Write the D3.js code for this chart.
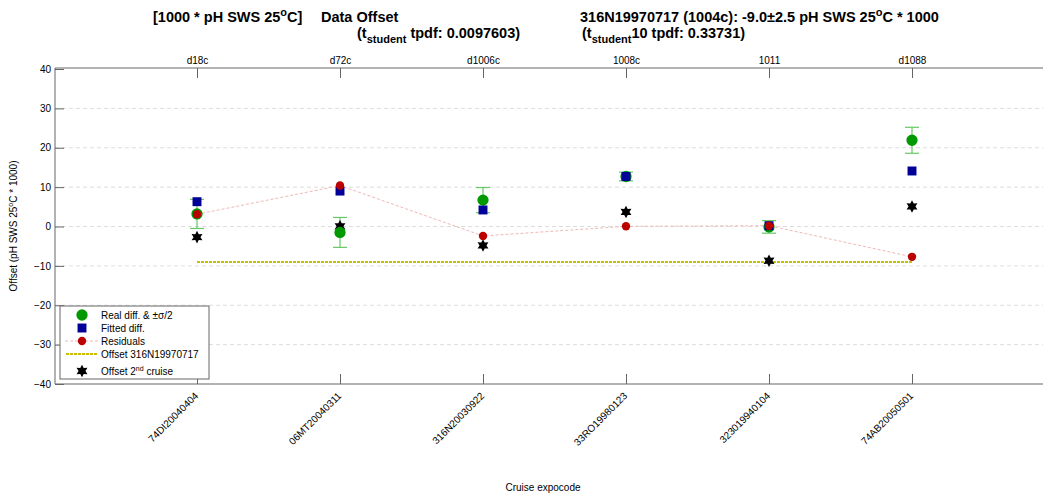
<!DOCTYPE html>
<meta charset="utf-8">
<style>
    body { margin: 0; background: #fff; }
    text { font-family: "Liberation Sans", Arial, sans-serif; fill: #000; }
    .grid line { stroke: #ddd; stroke-dasharray: 4 3; }
    .title { font-size: 14.5px; font-weight: bold; }
    .tick text { font-size: 10px; }
</style>
<body>
<svg width="1043" height="496"></svg>
</body>
<script src="https://d3js.org/d3.v7.min.js"></script>
<script>
    const cruises = ["74DI20040404", "06MT20040311", "316N20030922", "33RO19980123", "323019940104", "74AB20050501"];
    const topLabels = ["d18c", "d72c", "d1006c", "1008c", "1011", "d1088"];
    const realDiff = [3.2, -1.5, 6.7, 12.7, -0.1, 21.9];
    const realErr = [3.7, 3.8, 3.2, 1.1, 1.6, 3.3];
    const fitted = [6.3, 9.0, 4.2, 12.7, 0.2, 14.1];
    const residuals = [3.1, 10.4, -2.4, 0.05, 0.2, -7.7];
    const secondOffset = [-2.7, 0.05, -4.8, 3.7, -8.7, 5.1];
    const offsetValue = -9.0;
    const yTicks = [-40, -30, -20, -10, 0, 10, 20, 30, 40];

    const svg = d3.select("svg");
    const mLeft = 55, mTop = 68, mBottom = 384;

    const x = d3.scaleLinear().domain([0, 7]).range([54, 1055]);
    const y = d3.scaleLinear().domain([-40, 40]).range([mBottom, mTop + 1]);
    const idx = d3.range(cruises.length).map(i => i + 1);

    // grid
    svg.append("g").attr("class", "grid")
        .selectAll("line").data(yTicks.filter(d => d > -40 && d < 40)).enter().append("line")
        .attr("x1", mLeft).attr("x2", 1043)
        .attr("y1", d => y(d)).attr("y2", d => y(d));

    // frame
    svg.append("g").attr("stroke", "#666").attr("fill", "none").selectAll("line")
        .data([[mLeft, mTop, 1043, mTop], [mLeft, mBottom, 1043, mBottom], [mLeft, mTop, mLeft, mBottom]])
        .enter().append("line")
        .attr("x1", d => d[0]).attr("y1", d => d[1]).attr("x2", d => d[2]).attr("y2", d => d[3]);

    // y axis
    const yAxis = svg.append("g").attr("transform", `translate(${mLeft},0)`)
        .call(d3.axisLeft(y).tickValues(yTicks).tickSizeInner(-9).tickSizeOuter(0).tickPadding(4));
    yAxis.select(".domain").remove();
    yAxis.selectAll(".tick line").attr("stroke", "#666");

    // top axis
    const xTop = svg.append("g").attr("transform", `translate(0,${mTop})`)
        .call(d3.axisTop(x).tickValues(idx).tickFormat(d => topLabels[d - 1]).tickSizeInner(-10).tickSizeOuter(0).tickPadding(4));
    xTop.select(".domain").remove();
    xTop.selectAll(".tick line").attr("stroke", "#666");

    // bottom axis
    const xBot = svg.append("g").attr("transform", `translate(0,${mBottom})`)
        .call(d3.axisBottom(x).tickValues(idx).tickFormat(d => cruises[d - 1]).tickSizeInner(-10).tickSizeOuter(0));
    xBot.select(".domain").remove();
    xBot.selectAll(".tick line").attr("stroke", "#666");
    xBot.selectAll(".tick text")
        .attr("text-anchor", "end")
        .attr("transform", "translate(-1,10) rotate(-45)")
        .attr("dy", "0.35em").attr("y", 0);

    // axis titles
    svg.append("text").attr("transform", `translate(17,${(mTop + mBottom) / 2}) rotate(-90)`)
        .attr("text-anchor", "middle").style("font-size", "10px")
        .html('Offset (pH SWS 25<tspan dy="-4" font-size="7px">o</tspan><tspan dy="4">C * 1000)</tspan>');
    svg.append("text").attr("x", 543).attr("y", 491).attr("text-anchor", "middle")
        .style("font-size", "10px").text("Cruise expocode");

    // offset line
    svg.append("line")
        .attr("x1", x(1)).attr("x2", x(6)).attr("y1", y(offsetValue)).attr("y2", y(offsetValue))
        .attr("stroke", "#c8c000").attr("stroke-width", 2).attr("stroke-dasharray", "3 1");

    // residual line
    svg.append("path").datum(residuals)
        .attr("fill", "none").attr("stroke", "#f0b8b8").attr("stroke-dasharray", "3 2")
        .attr("d", d3.line().x((d, i) => x(i + 1)).y(d => y(d)));

    // error bars
    const eb = svg.append("g").attr("stroke", "#66c866").attr("stroke-width", 1.2);
    realDiff.forEach((v, i) => {
        const cx = x(i + 1), y0 = y(v - realErr[i]), y1 = y(v + realErr[i]);
        eb.append("line").attr("x1", cx).attr("x2", cx).attr("y1", y0).attr("y2", y1);
        eb.append("line").attr("x1", cx - 7).attr("x2", cx + 7).attr("y1", y0).attr("y2", y0);
        eb.append("line").attr("x1", cx - 7).attr("x2", cx + 7).attr("y1", y1).attr("y2", y1);
    });

    // six point star symbol
    const hexagram = {
        draw(ctx, size) {
            const r = Math.sqrt(size) * 0.75, ri = r * 0.55;
            for (let k = 0; k < 12; k++) {
                const a = Math.PI / 6 * k - Math.PI / 2;
                const rr = k % 2 ? ri : r;
                if (k === 0) ctx.moveTo(rr * Math.cos(a), rr * Math.sin(a));
                else ctx.lineTo(rr * Math.cos(a), rr * Math.sin(a));
            }
            ctx.closePath();
        }
    };

    function dots(data, type, size, color) {
        svg.append("g").selectAll("path").data(data).enter().append("path")
            .attr("transform", (d, i) => `translate(${x(i + 1)},${y(d)})`)
            .attr("d", d3.symbol().type(type).size(size))
            .attr("fill", color);
    }
    dots(secondOffset, hexagram, 70, "#000");
    dots(realDiff, d3.symbolCircle, 100, "#009900");
    dots(fitted, d3.symbolSquare, 80, "#000099");
    dots(residuals, d3.symbolCircle, 55, "#bb0000");

    // legend
    const lg = svg.append("g");
    lg.append("rect").attr("x", 60).attr("y", 306).attr("width", 149).attr("height", 73)
        .attr("fill", "#fff").attr("stroke", "#666");
    const rows = [315, 328, 341, 354, 371];
    lg.append("path").attr("transform", `translate(82,${rows[0]})`).attr("d", d3.symbol().type(d3.symbolCircle).size(100)).attr("fill", "#009900");
    lg.append("path").attr("transform", `translate(82,${rows[1]})`).attr("d", d3.symbol().type(d3.symbolSquare).size(80)).attr("fill", "#000099");
    lg.append("line").attr("x1", 65).attr("x2", 98).attr("y1", rows[2]).attr("y2", rows[2]).attr("stroke", "#f0b8b8").attr("stroke-dasharray", "3 2");
    lg.append("path").attr("transform", `translate(82,${rows[2]})`).attr("d", d3.symbol().type(d3.symbolCircle).size(55)).attr("fill", "#bb0000");
    lg.append("line").attr("x1", 66).attr("x2", 98).attr("y1", rows[3]).attr("y2", rows[3]).attr("stroke", "#c8c000").attr("stroke-width", 2).attr("stroke-dasharray", "3 1");
    lg.append("path").attr("transform", `translate(82,${rows[4]})`).attr("d", d3.symbol().type(hexagram).size(70)).attr("fill", "#000");
    const lt = ["Real diff. & \u00b1\u03c3/2", "Fitted diff.", "Residuals", "Offset 316N19970717"];
    lt.forEach((t, i) => lg.append("text").attr("x", 101).attr("y", rows[i] + 4).style("font-size", "10px").text(t));
    lg.append("text").attr("x", 101).attr("y", rows[4] + 4).style("font-size", "10px")
        .html('Offset 2<tspan dy="-4" font-size="7px">nd</tspan><tspan dy="4"> cruise</tspan>');

    // titles
    svg.append("text").attr("class", "title").attr("x", 153).attr("y", 22)
        .html('[1000 * pH SWS 25<tspan dy="-6" font-size="11px">o</tspan><tspan dy="6">C]</tspan>');
    svg.append("text").attr("class", "title").attr("x", 321).attr("y", 22).text("Data Offset");
    svg.append("text").attr("class", "title").attr("x", 357).attr("y", 38)
        .html('(t<tspan dy="5" font-size="11px">student</tspan><tspan dy="-5"> tpdf: 0.0097603)</tspan>');
    svg.append("text").attr("class", "title").attr("x", 580).attr("y", 22)
        .html('316N19970717 (1004c): -9.0\u00b12.5 pH SWS 25<tspan dy="-6" font-size="11px">o</tspan><tspan dy="6">C * 1000</tspan>');
    svg.append("text").attr("class", "title").attr("x", 582).attr("y", 38)
        .html('(t<tspan dy="5" font-size="11px">student</tspan><tspan dy="-5">10 tpdf: 0.33731)</tspan>');
</script>
